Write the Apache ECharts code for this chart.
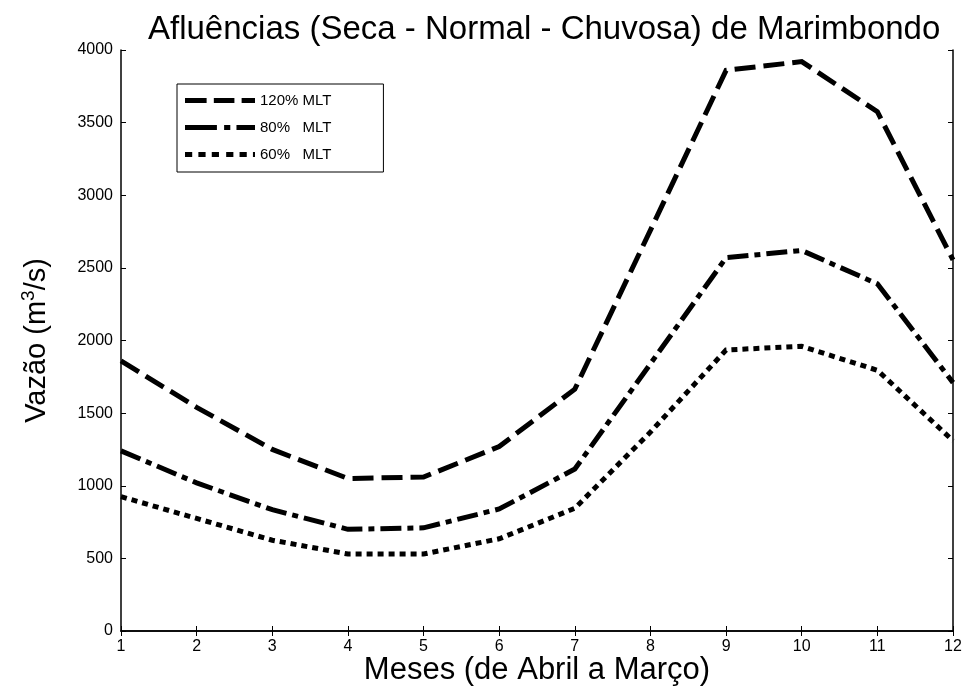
<!DOCTYPE html>
<html>
<head>
<meta charset="utf-8">
<script src="https://cdn.jsdelivr.net/npm/echarts@6/dist/echarts.min.js"></script>
<style>
html, body { margin: 0; padding: 0; background: #fff; }
#chart { width: 967px; height: 693px; }
</style>
</head>
<body>
<div id="chart"></div>
<script>
var months = [1, 2, 3, 4, 5, 6, 7, 8, 9, 10, 11, 12];
var seriesNames = ['120% MLT', '80%   MLT', '60%   MLT'];
var mlt120 = [1860, 1540, 1250, 1050, 1060, 1270, 1665, 2760, 3860, 3920, 3575, 2555];
var mlt80 = [1240, 1020, 835, 700, 710, 840, 1115, 1840, 2570, 2620, 2390, 1710];
var mlt60 = [925, 775, 625, 530, 530, 635, 845, 1370, 1935, 1960, 1795, 1310];
var dashTypes = [[21, 8], [21, 6, 6, 6], [6, 5]];
// 图例线型 (68 x 5)
var legendIcons = [
	'path://M0,0H21V5H0Z M28,0H48V5H28Z M55,0H68V5H55Z',
	'path://M0,0H31V5H0Z M38,0H44V5H38Z M50,0H68V5H50Z',
	'path://M0,0H7V5H0Z M13,0H20V5H13Z M26,0H33V5H26Z M40,0H47V5H40Z M53,0H60V5H53Z M66,0H68V5H66Z'
];

var myChart;
// 组装 [x, y] 数据
function pairs(vals) {
	var d = [];
	for (var i = 0; i < months.length; i++) {
		d.push([months[i], vals[i]]);
	}
	return d;
}
function makeSeries(name, vals, dash) {
	return {
		name: name,
		type: 'line',
		symbol: 'none',
		silent: true,
		data: pairs(vals),
		lineStyle: { color: '#000', width: 5, type: dash, cap: 'butt', join: 'miter' },
		itemStyle: { color: '#000' }
	};
}
function plainNum(v) {
	return String(v);
}
var font = 'Liberation Sans';
var tickStyle = { show: true, inside: true, length: 5, lineStyle: { color: '#000', width: 1 } };
var lineAxis = { show: true, lineStyle: { color: '#000', width: 1.5 } };

myChart = echarts.init(document.getElementById('chart'));
var legendData = [];
for (var i = 0; i < seriesNames.length; i++) {
	legendData.push({ name: seriesNames[i], icon: legendIcons[i] });
}
var option = {
	animation: false,
	backgroundColor: '#fff',
	title: {
		text: 'Afluências (Seca - Normal - Chuvosa) de Marimbondo',
		left: 143,
		top: 8,
		textStyle: { color: '#000', fontSize: 33, fontWeight: 'normal', fontFamily: font }
	},
	legend: {
		orient: 'vertical',
		left: 177,
		top: 84,
		itemWidth: 70,
		itemHeight: 5,
		itemGap: 12,
		symbolKeepAspect: false,
		padding: [9, 52, 10, 8],
		borderColor: '#000',
		borderWidth: 1,
		backgroundColor: '#fff',
		itemStyle: { color: '#000', borderWidth: 0 },
		textStyle: { color: '#000', fontSize: 15, fontFamily: font },
		data: legendData
	},
	grid: { left: 121, right: 14, top: 50, bottom: 62, outerBoundsMode: 'none' },
	xAxis: [{
		type: 'value',
		min: 1,
		max: 12,
		interval: 1,
		name: 'Meses (de Abril a Março)',
		nameLocation: 'middle',
		nameGap: 24,
		nameMoveOverlap: false,
		nameTextStyle: { color: '#000', fontSize: 31, fontFamily: font },
		axisLine: lineAxis,
		axisTick: tickStyle,
		axisLabel: { color: '#000', fontSize: 16, fontFamily: font, margin: 8, formatter: plainNum },
		splitLine: { show: false }
	}, {
		type: 'value',
		position: 'top',
		min: 1,
		max: 12,
		interval: 1,
		axisLine: lineAxis,
		axisTick: tickStyle,
		axisLabel: { show: false },
		splitLine: { show: false }
	}],
	yAxis: [{
		type: 'value',
		min: 0,
		max: 4000,
		interval: 500,
		name: 'Vazão (m{sup|3}/s)',
		nameLocation: 'middle',
		nameGap: 67,
		nameMoveOverlap: false,
		nameTextStyle: {
			color: '#000', fontSize: 29, fontFamily: font,
			rich: { sup: { fontSize: 19, fontFamily: font, color: '#000', padding: [0, 0, 16, 0] } }
		},
		axisLine: lineAxis,
		axisTick: tickStyle,
		axisLabel: { color: '#000', fontSize: 16, fontFamily: font, margin: 8, formatter: plainNum },
		splitLine: { show: false }
	}, {
		type: 'value',
		position: 'right',
		min: 0,
		max: 4000,
		interval: 500,
		axisLine: lineAxis,
		axisTick: tickStyle,
		axisLabel: { show: false },
		splitLine: { show: false }
	}],
	series: [
		makeSeries(seriesNames[0], mlt120, dashTypes[0]),
		makeSeries(seriesNames[1], mlt80, dashTypes[1]),
		makeSeries(seriesNames[2], mlt60, dashTypes[2])
	]
};
myChart.setOption(option);
</script>
</body>
</html>
